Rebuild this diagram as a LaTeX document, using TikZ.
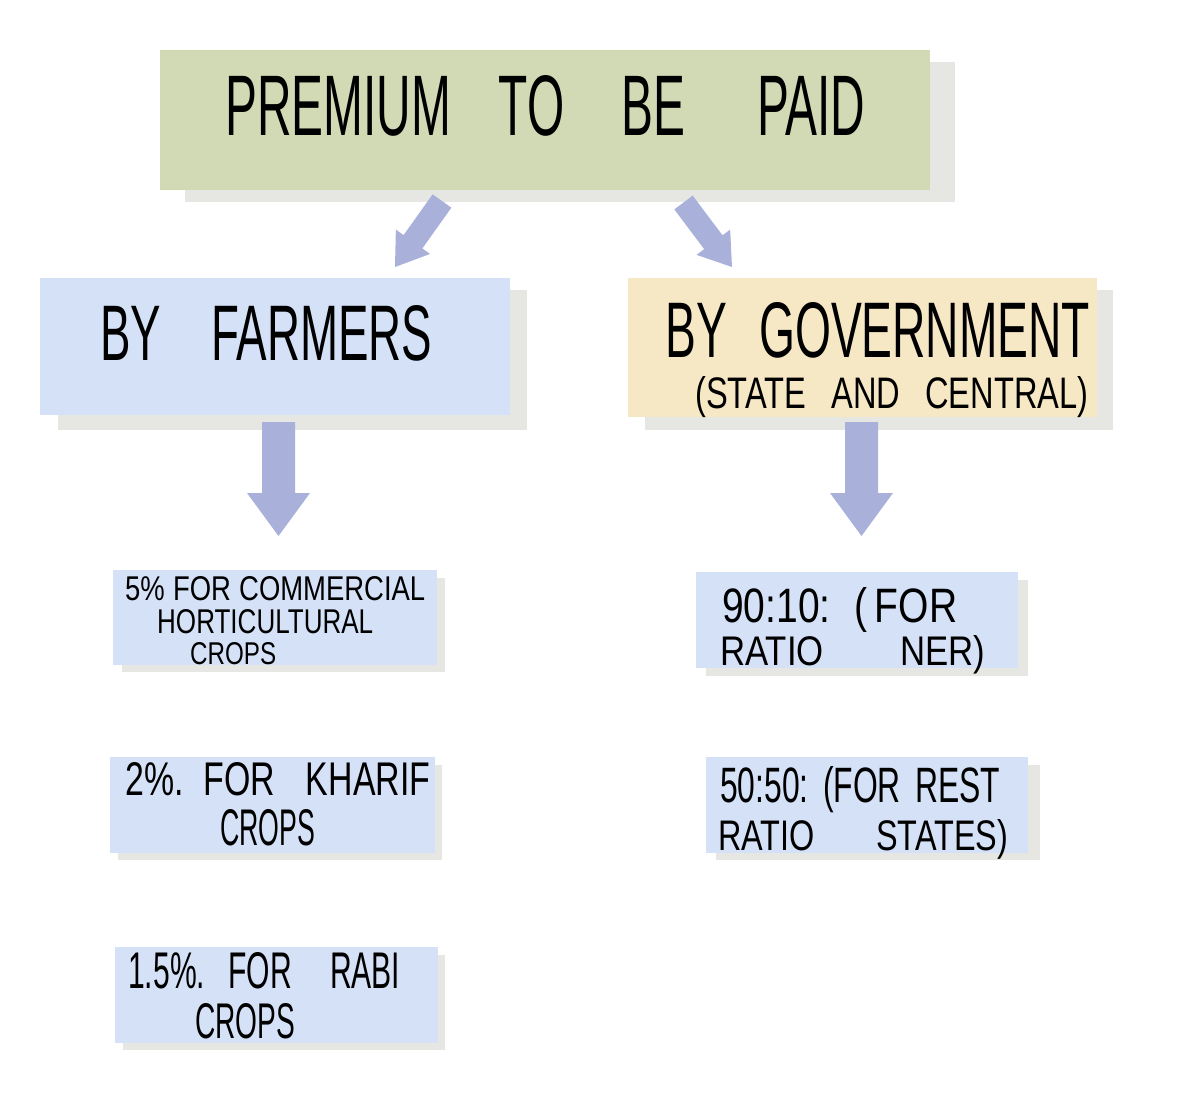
\documentclass[tikz,border=0pt]{standalone}
\usepackage{fontspec}
\setmainfont{Liberation Sans}
\usepackage{graphicx}
\usetikzlibrary{calc,fit}
\definecolor{greenc}{HTML}{D1DAB4}
\definecolor{bluec}{HTML}{D4E1F6}
\definecolor{yellowc}{HTML}{F6E8C5}
\definecolor{arrowc}{HTML}{A9B1DB}
\definecolor{shadowc}{HTML}{E6E7E2}
\newcommand\hand[3]{\resizebox{#1pt}{#2pt}{#3}}
\newcommand\fatarrow[5]{%
  \coordinate (#2-base) at ($(#2)!#5!(#1)$);
  \fill[arrowc] ($(#1)!#3!90:(#2)$) -- ($(#2-base)!#3!90:(#2)$) -- ($(#2-base)!#4!90:(#2)$) -- (#2)
    -- ($(#2-base)!#4!-90:(#2)$) -- ($(#2-base)!#3!-90:(#2)$) -- ($(#1)!#3!-90:(#2)$) -- cycle;}
\tikzset{
  boxnode/.style={inner sep=0pt, draw=none},
  txt/.style={anchor=base west, inner sep=0pt, text=black},
}
\begin{document}
\begin{tikzpicture}[x=1pt,y=-1pt]
\useasboundingbox (0,0) rectangle (1187,1112);
% shadows
\fill[shadowc] (185,62) rectangle (955,202);
\fill[shadowc] (58,290) rectangle (527,430);
\fill[shadowc] (645,290) rectangle (1113,430);
\fill[shadowc] (122,578) rectangle (445,672);
\fill[shadowc] (118,765) rectangle (442,860);
\fill[shadowc] (123,955) rectangle (445,1050);
\fill[shadowc] (706,580) rectangle (1028,676);
\fill[shadowc] (716,765) rectangle (1040,860);
% boxes
\node[boxnode, fill=greenc, fit={(160,50) (930,190)}] (top) {};
\node[boxnode, fill=bluec, fit={(40,278) (510,415)}] (farm) {};
\node[boxnode, fill=yellowc, fit={(628,278) (1097,417)}] (gov) {};
\node[boxnode, fill=bluec, fit={(113,570) (437,665)}] (f1) {};
\node[boxnode, fill=bluec, fit={(110,757) (435,853)}] (f2) {};
\node[boxnode, fill=bluec, fit={(115,947) (438,1043)}] (f3) {};
\node[boxnode, fill=bluec, fit={(696,572) (1018,668)}] (g1) {};
\node[boxnode, fill=bluec, fit={(706,757) (1028,853)}] (g2) {};
% arrows
\coordinate (dlA) at (442,201); \coordinate (dlB) at (395,267);
\coordinate (drA) at (683.5,202.5); \coordinate (drB) at (732,267);
\coordinate (vlA) at (278.5,422); \coordinate (vlB) at (278.5,536);
\coordinate (vrA) at (861.5,422); \coordinate (vrB) at (861.5,536);
\fatarrow{dlA}{dlB}{11.5pt}{21pt}{31pt}
\fatarrow{drA}{drB}{11.5pt}{21pt}{31pt}
\fatarrow{vlA}{vlB}{16.5pt}{31.5pt}{43pt}
\fatarrow{vrA}{vrB}{16.5pt}{31.5pt}{43pt}
% texts
\node[txt] (t0) at (225,135) {\hand{640}{60}{PREMIUM\hspace{1em}TO\hspace{1.2em}BE\hspace{1.5em}PAID}};
\node[txt] (t1) at (100,360) {\hand{332}{55}{BY\hspace{1.1em}FARMERS}};
\node[txt] (t2) at (665,357) {\hand{425}{55}{BY\hspace{0.7em}GOVERNMENT}};
\node[txt] (t3) at (695,408) {\hand{393}{32}{(STATE\hspace{0.77em}AND\hspace{0.77em}CENTRAL)}};
\node[txt] (t4) at (125,600) {\hand{300}{24}{5\%\hspace{0.3em}FOR\hspace{0.3em}COMMERCIAL}};
\node[txt] (t5) at (157,633) {\hand{216}{24}{HORTICULTURAL}};
\node[txt] (t6) at (190,664) {\hand{86}{22}{CROPS}};
\node[txt] (t7) at (125,795) {\hand{305}{33}{2\%.\hspace{0.6em}FOR\hspace{0.9em}KHARIF}};
\node[txt] (t8) at (220,845) {\hand{95}{36}{CROPS}};
\node[txt] (t9) at (128,988) {\hand{272}{36}{1.5\%.\hspace{0.77em}FOR\hspace{1.27em}RABI}};
\node[txt] (t10) at (195,1038) {\hand{100}{35}{CROPS}};
\node[txt] (t11) at (722,622) {\hand{235}{35}{90:10:\hspace{0.6em}(\hspace{0.2em}FOR}};
\node[txt] (t12) at (720,665) {\hand{265}{30}{RATIO\hspace{2.2em}NER)}};
\node[txt] (t13) at (720,802) {\hand{280}{36}{50:50:\hspace{0.45em}(FOR\hspace{0.45em}REST}};
\node[txt] (t14) at (718,850) {\hand{290}{31}{RATIO\hspace{1.9em}STATES)}};
\end{tikzpicture}
\end{document}
